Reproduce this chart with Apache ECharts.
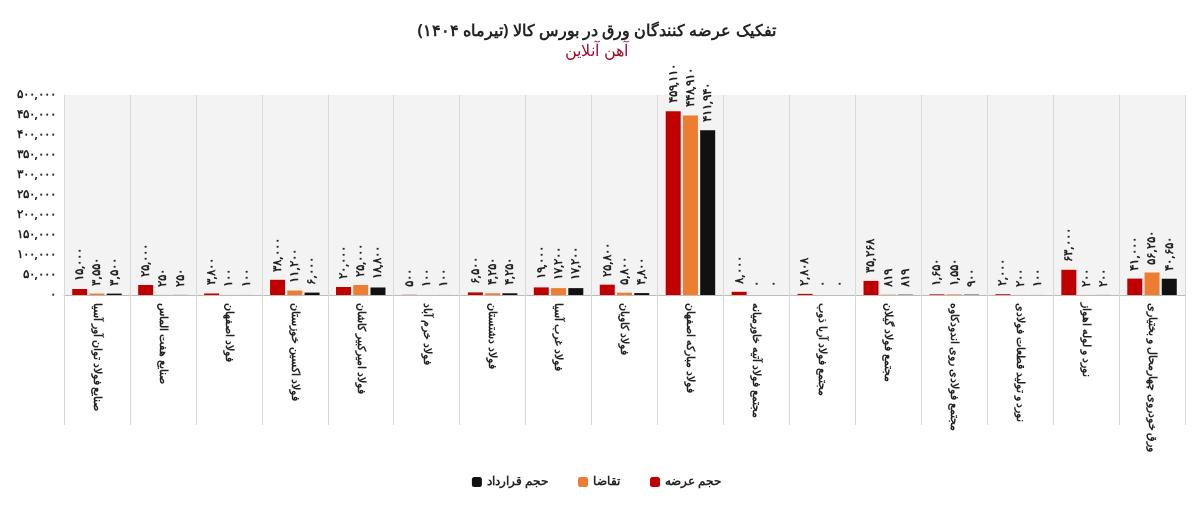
<!DOCTYPE html><html><head><meta charset="utf-8">
<script src="https://cdn.jsdelivr.net/npm/echarts@6/dist/echarts.min.js"></script>
<style>body{margin:0;background:#fff}#c{width:1193px;height:517px}</style></head><body><div id="c"></div>
<script>
const categories=['صنایع فولاد توان آور آسیا','صنایع هفت الماس','فولاد اصفهان','فولاد اکسین خوزستان','فولاد امیرکبیر کاشان','فولاد خرم آباد','فولاد دشتستان','فولاد غرب آسیا','فولاد کاویان','فولاد مبارکه اصفهان','مجتمع فولاد آتیه خاورمیانه','مجتمع فولاد آریا ذوب','مجتمع فولاد گیلان','مجتمع فولادی روی اندودکاوه','نورد و تولید قطعات فولادی','نورد و لوله اهواز','ورق خودروی چهارمحال و بختیاری'];
const supply=[15000,25000,3800,38000,20000,500,6500,19000,25800,459110,8000,2808,35268,1650,2000,63000,41000];
const demand=[3550,250,100,11200,25000,100,4250,17200,5800,448910,0,0,819,1550,200,200,56250];
const contract=[3500,250,100,6000,18800,100,4250,17200,4800,411940,0,0,819,900,100,200,40650];
const names=['حجم عرضه','تقاضا','حجم قرارداد'];
const colors=['#c00000','#ed7d31','#111111'];
const fa=n=>{const s=n>=1000?n.toLocaleString('en-US'):String(n);return s.replace(/\d/g,d=>'۰۱۲۳۴۵۶۷۸۹'[d]);};
const chart=echarts.init(document.getElementById('c'));
const mk=(i,d)=>({name:names[i],type:'bar',data:d,barWidth:15,barGap:'15%',itemStyle:{color:colors[i]},
 label:{show:true,position:'top',rotate:90,align:'left',verticalAlign:'middle',distance:8,formatter:p=>fa(p.value),fontSize:12,fontWeight:'bold',color:'#222',fontFamily:'Noto Sans'}});
chart.setOption({
 backgroundColor:'#fff',
 title:{text:'تفکیک عرضه کنندگان ورق در بورس کالا (تیرماه ۱۴۰۴)',subtext:'آهن آنلاین',left:'center',top:18,itemGap:4,
  textStyle:{fontSize:16,fontWeight:'bold',color:'#222',fontFamily:'Noto Sans'},subtextStyle:{fontSize:16,color:'#a01030',fontFamily:'Noto Sans'}},
 legend:{bottom:24,left:'center',itemWidth:10,itemHeight:10,itemGap:30,data:[names[2],names[1],names[0]],textStyle:{fontWeight:'bold',fontSize:12,color:'#222',fontFamily:'Noto Sans'}},
 grid:{left:64,right:8,top:95,bottom:222,backgroundColor:'#f3f3f3',show:true,borderWidth:0},
 xAxis:{type:'category',data:categories,axisLine:{lineStyle:{color:'#bbb'}},axisTick:{show:true,length:130,lineStyle:{color:'#d8d8d8'}},
  splitLine:{show:true,lineStyle:{color:'#d8d8d8'}},
  axisLabel:{rotate:-90,interval:0,fontSize:11,fontWeight:'bold',color:'#222',fontFamily:'Noto Sans',align:'left',verticalAlign:'middle'}},
 yAxis:{type:'value',min:0,max:500000,interval:50000,splitLine:{show:false},axisLine:{show:false},
  axisLabel:{formatter:v=>fa(v),fontSize:12,fontWeight:'bold',color:'#222',fontFamily:'Noto Sans'}},
 series:[mk(0,supply),mk(1,demand),mk(2,contract)]
});
</script></body></html>
